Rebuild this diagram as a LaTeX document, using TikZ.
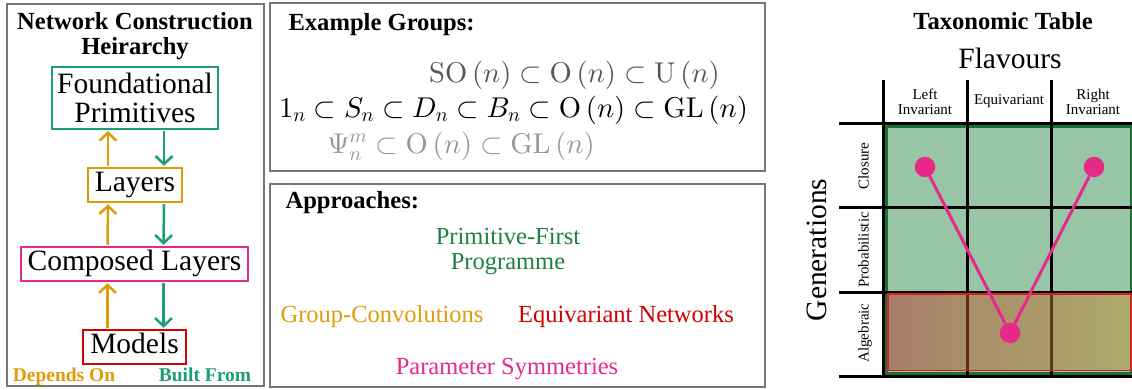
\RequirePackage{fix-cm}
\documentclass[tikz,border=0pt]{standalone}
\usepackage[no-math]{fontspec}
\setmainfont{Liberation Serif}
\usetikzlibrary{arrows.meta}
\DeclareFontShape{OT1}{cmr}{m}{n}{<-> cmr10}{}
\DeclareFontShape{OML}{cmm}{m}{it}{<-> cmmi10}{}
\DeclareFontShape{OMS}{cmsy}{m}{n}{<-> cmsy10}{}

\definecolor{panelgray}{RGB}{118,118,118}
\definecolor{builtgreen}{RGB}{27,158,119}
\definecolor{dependorange}{RGB}{224,155,10}
\definecolor{composedpink}{RGB}{231,41,138}
\definecolor{modelred}{RGB}{210,0,0}
\definecolor{primgreen}{RGB}{30,128,62}
\definecolor{subgray}{RGB}{85,85,85}
\definecolor{lightgroup}{RGB}{150,150,150}
\definecolor{cellgreen}{RGB}{151,197,166}
\definecolor{cellborder}{RGB}{30,110,55}
\definecolor{algred}{RGB}{212,32,32}

\begin{document}
\begin{tikzpicture}[x=1pt, y=-1pt,
    panel/.style={draw=panelgray, line width=2.5pt},
    title/.style={font=\fontsize{24.6}{24.5}\selectfont\bfseries, align=center},
    level/.style={draw, line width=2pt, inner xsep=7pt, inner ysep=4pt, text height=20pt, text depth=6.5pt, font=\fontsize{29.5}{29}\selectfont},
    dependson/.style={dependorange, line width=2.5pt, -{Straight Barb[length=8pt,width=17pt]}, shorten <=1pt, shorten >=1pt},
    builtfrom/.style={builtgreen, line width=2.5pt, -{Straight Barb[length=8pt,width=17pt]}, shorten <=1pt, shorten >=1pt},
    legend/.style={font=\fontsize{19.5}{20}\selectfont\bfseries, anchor=base},
    groups/.style={font=\fontsize{28.6}{28.6}\selectfont, inner sep=0pt},
    approach/.style={font=\fontsize{24.5}{25}\selectfont, align=center},
    gridline/.style={line width=3pt},
    header/.style={font=\fontsize{15}{15}\selectfont, align=center},
    dot/.style={circle, fill=composedpink, inner sep=0pt, minimum size=20.5pt},
    link/.style={composedpink, line width=3pt}]
    \useasboundingbox (0,0) rectangle (1132,390);

    % Hierarchy
    \draw[panel] (7,4) rectangle (264,386);
    \node[title] (hiertitle) at (135,36) {Network Construction\\Heirarchy};
    \node[draw=builtgreen, line width=2pt, align=center, minimum width=166pt, minimum height=62pt, inner sep=0pt, font=\fontsize{29.5}{29}\selectfont] (found) at (135,98) {Foundational\\Primitives};
    \node[level, draw=dependorange] (layers) at (135,185) {Layers};
    \node[level, draw=composedpink] (composed) at (134.5,264) {Composed Layers};
    \node[level, draw=modelred] (models) at (134.5,347) {Models};
    \draw[dependson] ([xshift=-27pt]layers.north) -- ([xshift=-27pt]found.south);
    \draw[builtfrom] ([xshift=29pt]found.south) -- ([xshift=29pt]layers.north);
    \draw[dependson] ([xshift=-27pt]composed.north) -- ([xshift=-27pt]layers.south);
    \draw[builtfrom] ([xshift=29pt]layers.south) -- ([xshift=29pt]composed.north);
    \draw[dependson] ([xshift=-27pt]models.north) -- ([xshift=-27pt]composed.south);
    \draw[builtfrom] ([xshift=29pt]composed.south) -- ([xshift=29pt]models.north);
    \node[legend, text=dependorange] (dependslabel) at (64,381.5) {Depends On};
    \node[legend, text=builtgreen] (builtlabel) at (205,381.5) {Built From};

    % Example groups
    \draw[panel] (270,3) rectangle (765,171);
    \node[title, anchor=base west] (groupstitle) at (285,31) {Example Groups:};
    \node[groups, text=subgray] (unitary) at (574.5,75) {$\mathrm{SO}\left(n\right)\subset\mathrm{O}\left(n\right)\subset\mathrm{U}\left(n\right)$};
    \node[groups] (chain) at (513.5,110) {$1_n\subset S_n\subset D_n\subset B_n\subset\mathrm{O}\left(n\right)\subset\mathrm{GL}\left(n\right)$};
    \node[groups, text=lightgroup] (psi) at (461,146) {$\Psi_n^m\subset\mathrm{O}\left(n\right)\subset\mathrm{GL}\left(n\right)$};

    % Approaches
    \draw[panel] (270,184) rectangle (765,387);
    \node[title, anchor=base west] (approachtitle) at (282,208) {Approaches:};
    \node[approach, text=primgreen] (primfirst) at (508,252) {Primitive-First\\Programme};
    \node[approach, text=dependorange, anchor=base] (gconv) at (382,322) {Group-Convolutions};
    \node[approach, text=modelred, anchor=base] (equinet) at (626,322) {Equivariant Networks};
    \node[approach, text=composedpink, anchor=base] (paramsym) at (507,374) {Parameter Symmetries};

    % Taxonomic table
    \node[title, anchor=base] (tabletitle) at (1003,30) {Taxonomic Table};
    \node[font=\fontsize{29.5}{29}\selectfont, anchor=base] (flavours) at (1010,68.5) {Flavours};
    \node[font=\fontsize{29.5}{29}\selectfont, rotate=90, anchor=base] (generations) at (826,250) {Generations};
    \node[header] (leftinv) at (925,102) {Left\\Invariant};
    \node[header, anchor=base] (equiv) at (1009,105) {Equivariant};
    \node[header] (rightinv) at (1093,102) {Right\\Invariant};
    \foreach \name/\y in {Closure/166, Probabilistic/250, Algebraic/333} {
        \node[header, rotate=90, anchor=base] at (868.5,\y) {\name};
    }
    \filldraw[fill=cellgreen, draw=cellborder, line width=3pt] (886.5,126.5) rectangle (1131,373.5);
    \foreach \x in {883,967,1051} {
        \draw[gridline] (\x,80) -- (\x,377.5);
    }
    \foreach \y in {124,208,292,376} {
        \draw[gridline] (839,\y) -- (1140,\y);
    }
    \shade[left color={rgb,255:red,187;green,57;blue,46}, right color={rgb,255:red,193;green,145;blue,50}, fill opacity=0.5] (888,294) rectangle (1131,370.5);
    \draw[algred, line width=1.5pt] (888,294) rectangle (1131,370.5);
    \node[dot] (lefttop) at (925,167) {};
    \node[dot] (righttop) at (1094,167) {};
    \node[dot] (bottom) at (1010,333) {};
    \draw[link] (lefttop) -- (bottom) -- (righttop);
\end{tikzpicture}
\end{document}
